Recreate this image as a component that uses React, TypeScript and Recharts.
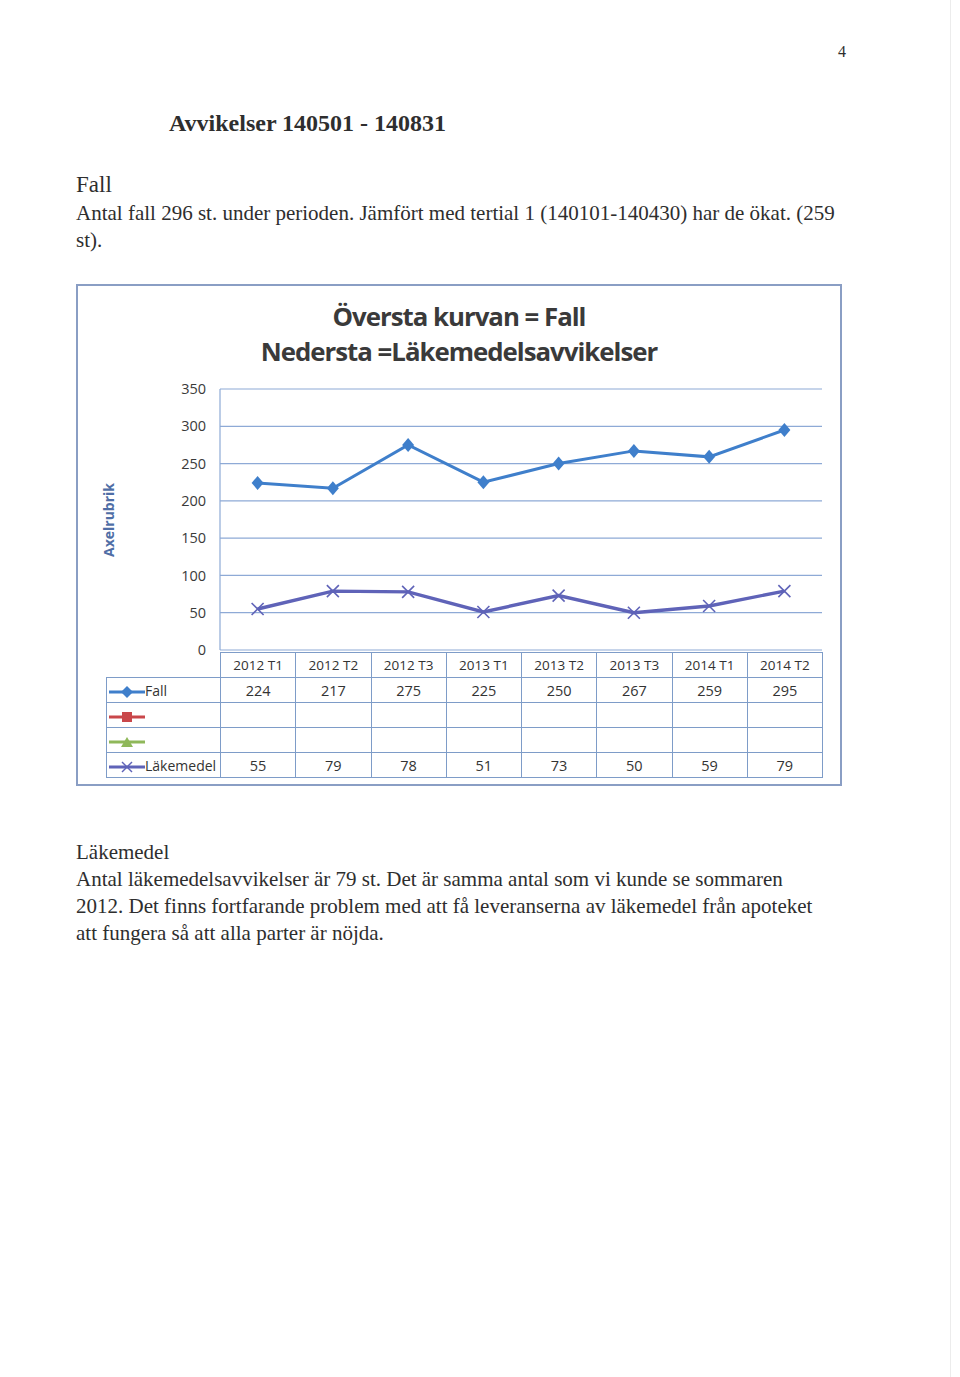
import React from 'react';
import { LineChart, Line, XAxis, YAxis, CartesianGrid } from 'recharts';

const periods = ['2012 T1', '2012 T2', '2012 T3', '2013 T1', '2013 T2', '2013 T3', '2014 T1', '2014 T2'];
const fall = [224, 217, 275, 225, 250, 267, 259, 295];
const lakemedel = [55, 79, 78, 51, 73, 50, 59, 79];
const yTicks = [0, 50, 100, 150, 200, 250, 300, 350];

const introLines = [
  'Antal fall 296 st. under perioden. Jämfört med tertial 1 (140101-140430) har de ökat. (259',
  'st).',
];
const outroLines = [
  'Antal läkemedelsavvikelser är 79 st. Det är samma antal som vi kunde se sommaren',
  '2012. Det finns fortfarande problem med att få leveranserna av läkemedel från apoteket',
  'att fungera så att alla parter är nöjda.',
];

const FALL_COLOR = '#3f7fcb';
const LAK_COLOR = '#5f63b8';
const RED = '#c9474a';
const GREEN = '#8fb85a';
const GRID = '#8eaad6';
const BORDER = '#7e9cc8';
const CHART_FONT = '"Open Sans", sans-serif';
const TEXT = '#2e2e2e';

const data = periods.map((p, i) => ({ period: p, fall: fall[i], lakemedel: lakemedel[i] }));

// diamond marker like the old Excel series 1
const Diamond = (props: any) => {
  const { cx, cy } = props;
  if (cx == null || cy == null) return null;
  return <path d={`M${cx},${cy - 7} L${cx + 6},${cy} L${cx},${cy + 7} L${cx - 6},${cy} Z`} fill={FALL_COLOR} />;
};

const Cross = (props: any) => {
  const { cx, cy } = props;
  if (cx == null || cy == null) return null;
  return (
    <g stroke={LAK_COLOR} strokeWidth={1.6}>
      <line x1={cx - 6} y1={cy - 6} x2={cx + 6} y2={cy + 6} />
      <line x1={cx - 6} y1={cy + 6} x2={cx + 6} y2={cy - 6} />
    </g>
  );
};

const LegendKey = ({ kind }: { kind: 'fall' | 'red' | 'green' | 'lak' }) => {
  const color = kind === 'fall' ? FALL_COLOR : kind === 'red' ? RED : kind === 'green' ? GREEN : LAK_COLOR;
  return (
    <svg width={36} height={14} style={{ verticalAlign: 'middle' }}>
      <line x1={0} y1={7} x2={36} y2={7} stroke={color} strokeWidth={3} />
      {kind === 'fall' && <path d="M18,1 L24,7 L18,13 L12,7 Z" fill={color} />}
      {kind === 'red' && <rect x={13} y={2} width={10} height={10} fill={color} />}
      {kind === 'green' && <path d="M18,2 L24,12 L12,12 Z" fill={color} />}
      {kind === 'lak' && (
        <g stroke={color} strokeWidth={1.4}>
          <line x1={13} y1={2} x2={23} y2={12} />
          <line x1={13} y1={12} x2={23} y2={2} />
        </g>
      )}
    </svg>
  );
};

const cell: React.CSSProperties = {
  border: `1px solid ${BORDER}`,
  textAlign: 'center',
  padding: 0,
  height: 24,
  fontSize: 14.5,
  color: '#333',
};

const App: React.FC = () => {
  const rows: { kind: 'fall' | 'red' | 'green' | 'lak'; label: string; values: (number | null)[] }[] = [
    { kind: 'fall', label: 'Fall', values: fall },
    { kind: 'red', label: '', values: periods.map(() => null) },
    { kind: 'green', label: '', values: periods.map(() => null) },
    { kind: 'lak', label: 'Läkemedel', values: lakemedel },
  ];

  return (
    <div
      style={{
        position: 'absolute',
        left: 0,
        top: 0,
        width: 960,
        height: 1377,
        background: '#fff',
        fontFamily: '"Liberation Serif", serif',
        color: TEXT,
        overflow: 'hidden',
      }}
    >
      <div style={{ position: 'absolute', left: 950, top: 0, width: 1, height: 1377, background: '#ececec' }} />
      <div style={{ position: 'absolute', left: 838, top: 42, fontSize: 16, lineHeight: '20px' }}>4</div>
      <div style={{ position: 'absolute', left: 169, top: 110, fontSize: 24, fontWeight: 'bold', lineHeight: '26px', whiteSpace: 'nowrap' }}>
        Avvikelser 140501 - 140831
      </div>
      <div style={{ position: 'absolute', left: 76, top: 172, fontSize: 23, lineHeight: '26px' }}>Fall</div>
      <div style={{ position: 'absolute', left: 76, top: 200, fontSize: 21, lineHeight: '27px', whiteSpace: 'nowrap' }}>
        {introLines.map((l) => (
          <div key={l}>{l}</div>
        ))}
      </div>

      <div
        style={{
          position: 'absolute',
          left: 76,
          top: 284,
          width: 766,
          height: 502,
          border: `2px solid #8a9ec4`,
          boxSizing: 'border-box',
          fontFamily: CHART_FONT,
        }}
      >
        <div
          style={{
            position: 'absolute',
            left: 0,
            top: 13,
            width: 762,
            textAlign: 'center',
            fontSize: 25.8,
            fontWeight: 'bold',
            lineHeight: '35px',
            letterSpacing: -1,
            color: '#3a3a3a',
          }}
        >
          <div>Översta kurvan = Fall</div>
          <div>Nedersta =Läkemedelsavvikelser</div>
        </div>
        <div
          style={{
            position: 'absolute',
            left: 30,
            top: 234,
            transform: 'translate(-50%, -50%) rotate(-90deg)',
            whiteSpace: 'nowrap',
            fontSize: 14,
            fontWeight: 'bold',
            color: '#4f6ea6',
          }}
        >
          Axelrubrik
        </div>

        <LineChart width={762} height={498} data={data} margin={{ top: 103, right: 18, bottom: 134, left: 0 }}>
          <CartesianGrid vertical={false} stroke={GRID} strokeWidth={1.2} />
          <XAxis dataKey="period" hide padding={{ left: 37.6, right: 37.6 }} />
          <YAxis
            width={142}
            domain={[0, 350]}
            ticks={yTicks}
            interval={0}
            tickLine={false}
            tickSize={0}
            tickMargin={14}
            axisLine={{ stroke: GRID, strokeWidth: 1.2 }}
            tick={{ fontSize: 14.5, fill: '#3a3a3a', fontFamily: CHART_FONT }}
          />
          <Line
            dataKey="fall"
            stroke={FALL_COLOR}
            strokeWidth={3}
            dot={<Diamond />}
            activeDot={false}
            isAnimationActive={false}
          />
          <Line
            dataKey="lakemedel"
            stroke={LAK_COLOR}
            strokeWidth={3.4}
            dot={<Cross />}
            activeDot={false}
            isAnimationActive={false}
          />
        </LineChart>

        <table
          style={{
            position: 'absolute',
            left: 28,
            top: 366,
            width: 717,
            borderCollapse: 'collapse',
            tableLayout: 'fixed',
            fontFamily: CHART_FONT,
          }}
        >
          <colgroup>
            <col style={{ width: 114 }} />
            {periods.map((p) => (
              <col key={p} />
            ))}
          </colgroup>
          <tbody>
            <tr>
              <td style={{ ...cell, borderTop: 'none', borderLeft: 'none' }} />
              {periods.map((p) => (
                <td key={p} style={{ ...cell, fontSize: 13.5 }}>
                  {p}
                </td>
              ))}
            </tr>
            {rows.map((r) => (
              <tr key={r.kind}>
                <td style={{ ...cell, textAlign: 'left', whiteSpace: 'nowrap', paddingLeft: 2, fontSize: 14 }}>
                  <LegendKey kind={r.kind} />
                  <span>{r.label}</span>
                </td>
                {r.values.map((v, i) => (
                  <td key={periods[i]} style={cell}>
                    {v ?? ''}
                  </td>
                ))}
              </tr>
            ))}
          </tbody>
        </table>
      </div>

      <div style={{ position: 'absolute', left: 76, top: 839, fontSize: 21, lineHeight: '27px', whiteSpace: 'nowrap' }}>
        <div>Läkemedel</div>
        {outroLines.map((l) => (
          <div key={l}>{l}</div>
        ))}
      </div>
    </div>
  );
};

export default App;
